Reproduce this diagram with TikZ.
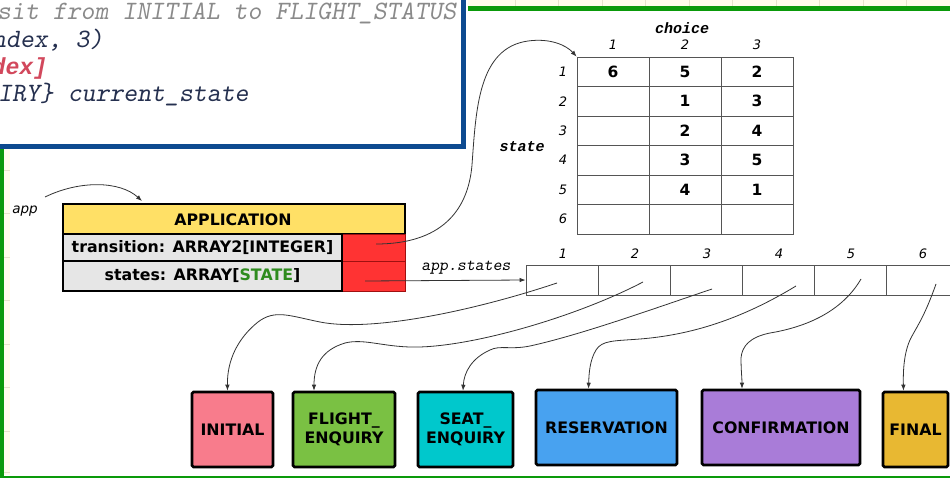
\documentclass[tikz,border=0pt]{standalone}
\usepackage{fontspec}
\setmainfont{DejaVu Sans}
\newfontfamily\monof{Liberation Mono}
\usetikzlibrary{arrows.meta,calc}
\definecolor{slgreen}{HTML}{0A9A0A}
\definecolor{paleY}{HTML}{FFFCEB}
\definecolor{gridc}{HTML}{E6E2CC}
\definecolor{codeblue}{HTML}{0D4A90}
\definecolor{codegray}{HTML}{8A8A8A}
\definecolor{codenavy}{HTML}{25304F}
\definecolor{codered}{HTML}{D2485C}
\definecolor{hdrY}{HTML}{FFE066}
\definecolor{rowG}{HTML}{E6E6E6}
\definecolor{cellR}{HTML}{FF3333}
\definecolor{cellRd}{HTML}{A01010}
\definecolor{stgreen}{HTML}{2E8B1E}
\definecolor{cInit}{HTML}{F87C8C}
\definecolor{cFlight}{HTML}{7AC143}
\definecolor{cSeat}{HTML}{00C8CC}
\definecolor{cRes}{HTML}{48A2F0}
\definecolor{cConf}{HTML}{A97CD8}
\definecolor{cFinal}{HTML}{E8B832}
\definecolor{linec}{HTML}{333333}
\definecolor{gridl}{HTML}{555555}
\begin{document}
\begin{tikzpicture}[x=1pt,y=-1pt,
  codetext/.style={anchor=base west,inner sep=0pt,font=\fontsize{26.5}{28}\selectfont\ttfamily\slshape},
  boxfont/.style={font=\fontsize{15.8}{18.5}\selectfont\bfseries},
  fieldbox/.style={draw=black,line width=2.6pt,fill=rowG,minimum width=279pt,inner sep=0pt,boxfont},
  redcell/.style={draw=cellRd,line width=0.6pt,fill=cellR,minimum width=63pt,inner sep=0pt},
  tcell/.style={draw=gridl,line width=0.8pt,minimum width=72pt,minimum height=29.5pt,inner sep=0pt,font=\fontsize{15.5}{17}\selectfont\bfseries},
  acell/.style={draw=gridl,line width=0.8pt,minimum width=72pt,minimum height=30pt,inner sep=0pt},
  idx/.style={font=\fontsize{13}{15}\selectfont\itshape,inner sep=0pt},
  mlabel/.style={font=\fontsize{15}{17}\selectfont\monof\bfseries\itshape,inner sep=0pt},
  statebox/.style={draw=black,line width=2.6pt,rounded corners=1.5pt,inner sep=0pt,align=center,boxfont},
  conn/.style={draw=linec,line width=0.8pt,-{Latex[length=6pt,width=4.5pt]}}
]
\useasboundingbox (0,0) rectangle (950,478);
\fill[white] (0,0) rectangle (950,478);
% pale slide strips
\fill[paleY] (468,0) rectangle (950,6.5);
\foreach \x in {515,558.5,602,645.5,689,732.5,776,819.5,863,906.5}
  \draw[gridc,line width=0.6pt] (\x,0) -- (\x,6.5);
\fill[paleY] (4,148) rectangle (9.5,475);
\foreach \y in {170,213.5,257,300.5,344,387.5,431,472}
  \draw[gridc,line width=0.6pt] (4,\y) -- (9.5,\y);
% green slide rules
\draw[slgreen,line width=5pt] (468,8.5) -- (950,8.5);
\draw[slgreen,line width=4pt] (2,145) -- (2,478);
\draw[slgreen,line width=2pt] (0,477) -- (950,477);
% code box
\fill[white] (-10,-10) rectangle (463.5,146.5);
\begin{scope}
\clip (-10,-10) rectangle (461,144);
\node[codetext,text=codegray] (code1) at (-3,20) {sit from INITIAL to FLIGHT\_STATUS};
\node[codetext,text=codenavy] (code2) at (-8,48) {ndex, 3)};
\node[codetext,text=codered,font=\fontsize{23.2}{26}\selectfont\monof\bfseries\itshape] (code3) at (-8.6,75) {dex]};
\node[codetext,text=codenavy] (code4) at (-2,102) {IRY\} current\_state};
\end{scope}
\draw[codeblue,line width=5.5pt] (-10,146.5) -- (463.5,146.5) -- (463.5,-10);
% APPLICATION object
\node[draw=black,line width=2.6pt,fill=hdrY,minimum width=342pt,minimum height=30pt,inner sep=0pt] (apphead) at (234,219) {};
\node[boxfont,inner sep=0pt] (applbl) at (233,219.5) {APPLICATION};
\node[redcell,minimum height=27pt] (trcell) at (373.5,247.5) {};
\node[redcell,minimum height=30pt] (stcell) at (373.5,276) {};
\node[fieldbox,minimum height=27pt] (trrow) at (202.5,247.5) {transition: ARRAY2[INTEGER]};
\node[fieldbox,minimum height=30pt] (strow) at (202.5,276) {states: ARRAY[\textcolor{stgreen}{STATE}]};
\node[font=\fontsize{13.5}{15}\selectfont\itshape,inner sep=0pt] (applabel) at (25,211) {app};
\coordinate (appstart) at (45,197);
\draw[conn] (appstart) .. controls (80,180) and (120,181) .. (142,201);
% transition table
\foreach \r/\a/\b/\c in {1/6/5/2,2//1/3,3//2/4,4//3/5,5//4/1,6///}{
  \node[tcell] (t-\r-1) at (613,{57+29.5*(\r-0.5)}) {\a};
  \node[tcell] (t-\r-2) at (685,{57+29.5*(\r-0.5)}) {\b};
  \node[tcell] (t-\r-3) at (757,{57+29.5*(\r-0.5)}) {\c};
  \node[idx] (rl-\r) at (563,{57+29.5*(\r-0.5)}) {\r};
}
\foreach \c/\x in {1/613,2/685,3/757}
  \node[idx] (cl-\c) at (\x,45) {\c};
\node[mlabel] (choicelbl) at (682,28) {choice};
\node[mlabel] (statelbl) at (522,147) {state};
\coordinate (trstart) at (376,244);
\draw[conn] (trstart) .. controls (440,244) and (468,212) .. (472,165)
   .. controls (476,110) and (478,48) .. (528,41)
   .. controls (550,38) and (566,45) .. (t-1-1.north west);
% states array
\foreach \i in {1,...,6}{
  \node[acell] (a\i) at ({526+72*(\i-0.5)},280) {};
  \node[idx] (al\i) at ({527+72*(\i-0.5)},254) {\i};
}
\node[font=\fontsize{17}{19}\selectfont\ttfamily\slshape,inner sep=0pt] (aslbl) at (466,268) {app.states};
\coordinate (ststart) at (365,281);
\draw[conn] (ststart) -- (a1.west);
% state boxes
\node[statebox,fill=cInit,minimum width=81pt,minimum height=75pt] (sINIT) at (232.5,429.5) {INITIAL};
\node[statebox,fill=cFlight,minimum width=102pt,minimum height=75pt] (sFLIGHT) at (344,429.5) {FLIGHT\_\\ENQUIRY};
\node[statebox,fill=cSeat,minimum width=95pt,minimum height=75pt] (sSEAT) at (465.5,429.5) {SEAT\_\\ENQUIRY};
\node[statebox,fill=cRes,minimum width=141pt,minimum height=75pt] (sRES) at (606.5,427.5) {RESERVATION};
\node[statebox,fill=cConf,minimum width=158pt,minimum height=75pt] (sCONF) at (781,427.5) {CONFIRMATION};
\node[statebox,fill=cFinal,minimum width=65pt,minimum height=75pt] (sFINAL) at (915.5,429.5) {FINAL};
% connectors from array cells
\coordinate (p1) at (557,283);
\coordinate (p2) at (643,282);
\coordinate (p3) at (712,289);
\coordinate (p4) at (796,286);
\coordinate (p5) at (861,279);
\coordinate (p6) at (936,284);
\draw[conn] (p1) .. controls (470,312) and (370,332) .. (320,322)
   .. controls (290,316) and (275,309) .. (258,322)
   .. controls (238,338) and (227,360) .. ([xshift=-5pt]sINIT.north);
\draw[conn] (p2) .. controls (580,315) and (480,345) .. (420,347)
   .. controls (385,348) and (365,338) .. (345,343)
   .. controls (322,350) and (314,365) .. ([xshift=-30pt]sFLIGHT.north);
\draw[conn] (p3) .. controls (650,310) and (580,335) .. (530,346)
   .. controls (510,350) and (500,345) .. (490,350)
   .. controls (472,358) and (464,372) .. ([xshift=-2.5pt]sSEAT.north);
\draw[conn] (p4) .. controls (740,320) and (690,335) .. (640,339)
   .. controls (615,341) and (602,340) .. (596,350)
   .. controls (590,360) and (589,372) .. ([xshift=-18pt]sRES.north);
\draw[conn] (p5) .. controls (840,315) and (800,328) .. (770,333)
   .. controls (750,337) and (742,346) .. (741,358)
   .. controls (741,370) and (742,378) .. ([xshift=-39pt]sCONF.north);
\draw[conn] (p6) .. controls (925,315) and (918,325) .. (912,336)
   .. controls (904,350) and (903,370) .. ([xshift=-12pt]sFINAL.north);
\end{tikzpicture}
\end{document}
